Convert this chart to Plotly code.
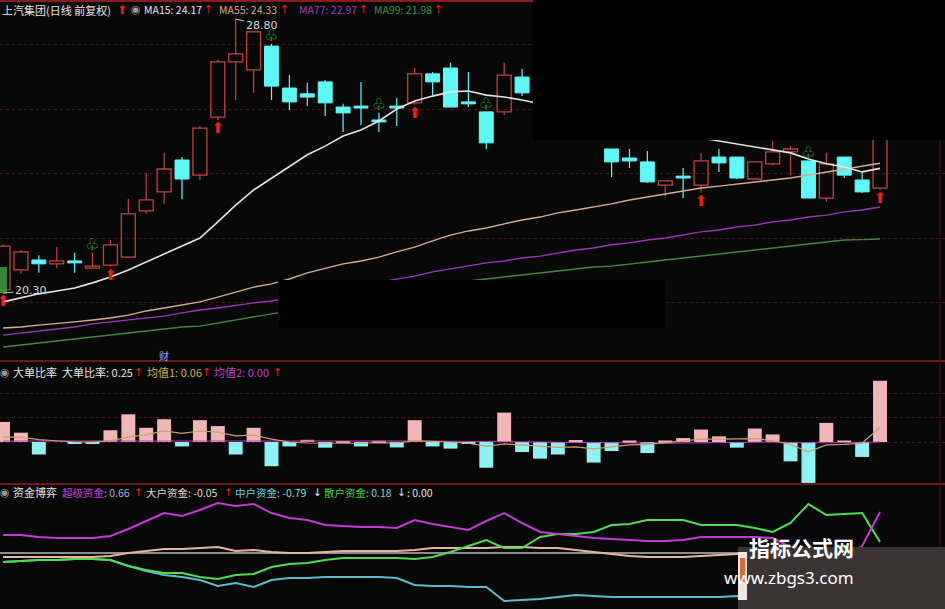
import plotly.graph_objects as go

W, H = 945, 609
def px(x): return x / W
def py(y): return 1 - y / H

# ---------------- data ----------------
open_ = [20.40, 21.02, 21.33, 21.21, 21.30, 21.08, 21.17, 21.42, 22.85, 23.44,
         24.43, 23.96, 25.76, 27.47, 27.22, 27.96, 26.66, 26.48, 26.85, 26.07,
         26.10, 25.67, 26.10, 26.20, 27.10, 27.28, 26.23, 25.92, 25.92, 27.00,
         None, None, None, None, 24.77, 24.49, 24.37, 23.65, 23.93, 23.65,
         24.52, 24.52, 23.84, 24.31, 24.68, 24.40, 23.25, 24.52, 23.81, 23.56]
high = [21.80, 21.64, 21.48, 21.73, 21.55, 21.55, 21.95, 23.22, 24.03, 24.65,
        24.52, 25.48, 27.53, 28.80, 28.40, 28.03, 27.06, 26.82, 26.91, 26.17,
        26.85, 25.89, 26.35, 27.28, 27.16, 27.44, 27.16, 25.92, 27.44, 27.25,
        None, None, None, None, 24.77, 24.77, 24.71, 23.78, 24.18, 24.65,
        24.77, 24.52, 24.37, 25.02, 24.86, 24.40, 24.65, 24.52, 24.06, 25.90]
low = [20.30, 20.90, 20.93, 21.08, 20.93, 21.08, 21.11, 21.39, 22.76, 23.07,
       23.22, 23.81, 25.67, 26.29, 26.51, 26.29, 25.98, 26.10, 25.79, 25.30,
       25.51, 25.30, 25.48, 26.13, 26.44, 26.07, 26.07, 24.77, 25.82, 26.41,
       None, None, None, None, 23.90, 24.18, 23.72, 23.31, 23.25, 23.41,
       24.06, 23.84, 23.84, 24.27, 23.96, 23.25, 23.13, 23.87, 23.41, 23.50]
close = [21.76, 21.58, 21.21, 21.30, 21.24, 21.14, 21.80, 22.76, 23.19, 24.15,
         23.84, 25.42, 27.47, 27.72, 28.40, 26.72, 26.23, 26.38, 26.20, 25.89,
         26.04, 25.61, 26.04, 27.10, 26.85, 26.07, 26.17, 24.96, 27.06, 26.51,
         None, None, None, None, 24.37, 24.40, 23.75, 23.78, 23.87, 24.40,
         24.34, 23.87, 24.37, 24.68, 24.77, 23.25, 24.31, 23.96, 23.44, 25.67]

ma15 = [20.03, 20.15, 20.28, 20.37, 20.46, 20.62, 20.80, 21.02, 21.27, 21.52,
        21.76, 22.01, 22.51, 23.03, 23.50, 23.87, 24.24, 24.59, 24.86, 25.17,
        25.36, 25.64, 26.01, 26.26, 26.41, 26.54, 26.57, 26.44, 26.38, 26.29,
        26.17, 26.07, 25.95, 25.82, 25.70, 25.58, 25.45, 25.33, 25.20, 25.11,
        25.02, 24.93, 24.83, 24.74, 24.65, 24.46, 24.31, 24.21, 24.06, 24.17]
ma55 = [19.22, 19.25, 19.31, 19.35, 19.41, 19.47, 19.53, 19.62, 19.75, 19.84,
        19.93, 20.03, 20.18, 20.34, 20.49, 20.59, 20.74, 20.93, 21.08, 21.21,
        21.30, 21.42, 21.58, 21.73, 21.92, 22.10, 22.23, 22.32, 22.45, 22.57,
        22.66, 22.79, 22.88, 22.97, 23.07, 23.19, 23.28, 23.38, 23.47, 23.56,
        23.62, 23.69, 23.75, 23.81, 23.87, 23.96, 24.06, 24.15, 24.24, 24.33]
ma77 = [19.00, 19.07, 19.13, 19.19, 19.25, 19.35, 19.41, 19.47, 19.53, 19.59,
        19.69, 19.78, 19.84, 19.93, 20.00, 20.06, 20.15, 20.24, 20.34, 20.43,
        20.55, 20.65, 20.74, 20.83, 20.96, 21.05, 21.14, 21.24, 21.30, 21.39,
        21.45, 21.55, 21.64, 21.70, 21.80, 21.86, 21.95, 22.01, 22.10, 22.20,
        22.26, 22.35, 22.41, 22.51, 22.57, 22.66, 22.72, 22.82, 22.88, 22.97]
ma99 = [18.63, 18.70, 18.76, 18.82, 18.88, 18.94, 19.00, 19.07, 19.13, 19.19,
        19.25, 19.28, 19.38, 19.47, 19.56, 19.66, 19.75, 19.87, 19.97, 20.06,
        20.15, 20.24, 20.34, 20.43, 20.52, 20.62, 20.68, 20.74, 20.80, 20.86,
        20.93, 20.99, 21.05, 21.11, 21.14, 21.21, 21.27, 21.33, 21.39, 21.45,
        21.52, 21.58, 21.64, 21.70, 21.76, 21.83, 21.89, 21.95, 21.96, 21.98]

buy_idx = [0, 6, 12, 23, 39, 49]
sell_idx = [5, 15, 21, 27, 45]

ratio = [0.082, 0.038, -0.051, 0.0, -0.008, -0.008, 0.048, 0.113, 0.058, 0.093,
         -0.018, 0.089, 0.065, -0.051, 0.058, -0.099, -0.018, 0.009, -0.023, 0.002,
         -0.018, 0.005, -0.022, 0.089, -0.018, -0.027, -0.005, -0.105, 0.120, -0.041,
         -0.068, -0.051, 0.008, -0.084, -0.037, 0.006, -0.045, 0.006, 0.016, 0.051,
         0.023, -0.023, 0.055, 0.031, -0.079, -0.167, 0.078, 0.006, -0.061, 0.25]
avg1 = [0.02, 0.02, 0.01, 0.005, 0.0, 0.0, 0.005, 0.02, 0.03, 0.045,
        0.035, 0.045, 0.04, 0.025, 0.028, 0.012, 0.0, -0.004, -0.005, -0.004,
        -0.005, -0.003, -0.004, 0.005, 0.004, 0.0, -0.005, -0.018, -0.008, -0.012,
        -0.018, -0.022, -0.02, -0.028, -0.02, -0.012, -0.01, -0.003, 0.005, 0.012,
        0.012, 0.012, 0.014, 0.005, -0.01, -0.04, -0.012, -0.01, -0.005, 0.06]
avg2 = [0.004, 0.004, 0.004, 0.004, 0.004, 0.004, 0.004, 0.005, 0.005, 0.006,
        0.006, 0.007, 0.007, 0.007, 0.007, 0.006, 0.006, 0.005, 0.005, 0.005,
        0.004, 0.004, 0.004, 0.004, 0.004, 0.003, 0.003, 0.002, 0.002, 0.001,
        0.0, -0.001, -0.002, -0.003, -0.004, -0.004, -0.005, -0.005, -0.004, -0.003,
        -0.002, -0.001, 0.0, 0.0, -0.002, -0.004, -0.003, -0.002, -0.002, 0.0]

super_fund = [0.29, 0.29, 0.258, 0.242, 0.242, 0.242, 0.274, 0.387, 0.516, 0.645,
              0.597, 0.694, 0.806, 0.758, 0.79, 0.645, 0.565, 0.532, 0.452, 0.435,
              0.419, 0.419, 0.403, 0.532, 0.468, 0.419, 0.371, 0.516, 0.645, 0.484,
              0.339, 0.306, 0.274, 0.242, 0.226, 0.21, 0.194, 0.194, 0.21, 0.258,
              0.258, 0.258, 0.258, 0.242, 0.097, 0.016, -0.048, -0.048, 0.113, 0.66]
big_fund = [-0.065, -0.065, -0.065, -0.065, -0.065, -0.065, -0.048, 0.0, 0.032, 0.065,
            0.065, 0.081, 0.097, 0.032, 0.048, 0.016, 0.0, 0.0, 0.016, 0.032,
            0.032, 0.032, 0.032, 0.048, 0.081, 0.081, 0.081, 0.081, 0.097, 0.097,
            0.081, 0.081, 0.048, 0.016, -0.016, -0.048, -0.065, -0.065, -0.065, -0.048,
            -0.032, -0.016, -0.016, -0.032, -0.048, -0.048, -0.065, -0.065, -0.05, -0.05]
mid_fund = [-0.145, -0.129, -0.113, -0.113, -0.097, -0.097, -0.113, -0.21, -0.29, -0.355,
            -0.387, -0.435, -0.532, -0.484, -0.548, -0.435, -0.403, -0.403, -0.387, -0.387,
            -0.387, -0.387, -0.403, -0.516, -0.532, -0.532, -0.548, -0.548, -0.774, -0.758,
            -0.742, -0.71, -0.677, -0.694, -0.71, -0.71, -0.71, -0.71, -0.71, -0.71,
            -0.71, -0.694, -0.71, -0.726, -0.742, -0.758, -0.774, -0.774, -0.79, -0.79]
retail_fund = [-0.145, -0.129, -0.113, -0.113, -0.097, -0.097, -0.113, -0.21, -0.274, -0.323,
               -0.323, -0.387, -0.419, -0.355, -0.339, -0.226, -0.177, -0.161, -0.113, -0.081,
               -0.081, -0.081, -0.081, -0.097, -0.065, 0.016, 0.113, 0.21, 0.081, 0.081,
               0.258, 0.306, 0.306, 0.339, 0.452, 0.468, 0.532, 0.532, 0.532, 0.452,
               0.452, 0.452, 0.403, 0.339, 0.484, 0.79, 0.613, 0.629, 0.645, 0.18]

# ---------------- styles ----------------
BG = "#090808"
RED = "#c0443a"
CYAN = "#5ff8f8"
ARROW_RED = "#e8201c"
CJK = "Noto Sans CJK SC"

fig = go.Figure()

# candles
up = dict(x=[], base=[], h=[], wx=[], wy=[])
dn = dict(x=[], base=[], h=[], wx=[], wy=[])
for i, (o, hi, lo, c) in enumerate(zip(open_, high, low, close)):
    if o is None:
        continue
    top, bot = max(o, c), min(o, c)
    d = up if c >= o else dn
    d["x"].append(i)
    d["base"].append(bot)
    d["h"].append(max(top - bot, 0.03))
    d["wx"] += [i, i, None, i, i, None]
    d["wy"] += [hi, top, None, bot, lo, None]

fig.add_trace(go.Scatter(x=up["wx"], y=up["wy"], mode="lines",
                         line=dict(color=RED, width=1.2), xaxis="x", yaxis="y"))
fig.add_trace(go.Scatter(x=dn["wx"], y=dn["wy"], mode="lines",
                         line=dict(color=CYAN, width=1.2), xaxis="x", yaxis="y"))
fig.add_trace(go.Bar(x=up["x"], y=up["h"], base=up["base"], width=0.78,
                     marker=dict(color="rgba(0,0,0,0)", line=dict(color=RED, width=1.3)),
                     xaxis="x", yaxis="y"))
fig.add_trace(go.Bar(x=dn["x"], y=dn["h"], base=dn["base"], width=0.78,
                     marker=dict(color=CYAN, line=dict(color=CYAN, width=1)),
                     xaxis="x", yaxis="y"))

idx = list(range(len(ma15)))
for vals, col, w in [(ma99, "#3f8a3c", 1.4), (ma77, "#9a36b4", 1.4),
                     (ma55, "#d6b08a", 1.4), (ma15, "#e4e4e4", 1.6)]:
    fig.add_trace(go.Scatter(x=idx, y=vals, mode="lines", line=dict(color=col, width=w),
                             xaxis="x", yaxis="y"))

# signals
fig.add_trace(go.Scatter(x=buy_idx, y=[low[i] - 0.28 for i in buy_idx], mode="text",
                         text=["⬆"] * len(buy_idx),
                         textfont=dict(color=ARROW_RED, size=15, family="DejaVu Sans"),
                         xaxis="x", yaxis="y"))
fig.add_trace(go.Scatter(x=sell_idx, y=[high[i] + 0.22 for i in sell_idx], mode="text",
                         text=["♧"] * len(sell_idx),
                         textfont=dict(color="#3dbb3d", size=16, family="DejaVu Sans"),
                         xaxis="x", yaxis="y"))

# panel 2: big order ratio
fig.add_trace(go.Bar(x=idx, y=ratio, width=0.78,
                     marker=dict(color=["#f3b6b6" if v >= 0 else "#8ef2f2" for v in ratio],
                                 line=dict(width=0)),
                     xaxis="x2", yaxis="y2"))
fig.add_trace(go.Scatter(x=idx, y=avg2, mode="lines", line=dict(color="#c03cc0", width=1),
                         xaxis="x2", yaxis="y2"))
fig.add_trace(go.Scatter(x=idx, y=avg1, mode="lines", line=dict(color="#c8a070", width=1.2),
                         xaxis="x2", yaxis="y2"))

# panel 3: fund game
for vals, col in [(mid_fund, "#5cbccc"), (big_fund, "#e6b898"),
                  (retail_fund, "#4fdc4f"), (super_fund, "#c03cd4")]:
    fig.add_trace(go.Scatter(x=idx, y=vals, mode="lines", line=dict(color=col, width=2),
                             xaxis="x3", yaxis="y3"))

XR = [-0.17, 52.63]
axis_common = dict(range=XR, visible=False, fixedrange=True)
GRID = "#4c1616"

shapes = [
    dict(type="line", xref="x3", yref="y3", x0=-0.17, x1=49, y0=0, y1=0,
         line=dict(color="#8c8c8c", width=2), layer="below"),
    dict(type="line", xref="paper", yref="paper", x0=0, x1=px(533), y0=py(1), y1=py(1),
         line=dict(color="#8a1c1c", width=2)),
    dict(type="line", xref="paper", yref="paper", x0=0, x1=1, y0=py(361), y1=py(361),
         line=dict(color="#6a1818", width=2)),
    dict(type="line", xref="paper", yref="paper", x0=0, x1=1, y0=py(484), y1=py(484),
         line=dict(color="#6a1818", width=2)),
    dict(type="line", xref="paper", yref="paper", x0=px(940), x1=px(940), y0=py(140), y1=0,
         line=dict(color="#4a1212", width=1)),
    # green marker block at the left edge
    dict(type="rect", xref="paper", yref="paper", x0=0, x1=px(7), y0=py(293), y1=py(267),
         fillcolor="#3f9c3f", line=dict(width=0), layer="above", opacity=0.85),
    dict(type="rect", xref="paper", yref="paper", x0=px(533), x1=1, y0=py(140), y1=1,
         fillcolor="#000000", line=dict(width=0), layer="above"),
    dict(type="rect", xref="paper", yref="paper", x0=px(278), x1=px(665), y0=py(328), y1=py(280),
         fillcolor="#000000", line=dict(width=0), layer="above"),
    dict(type="rect", xref="paper", yref="paper", x0=px(738), x1=1, y0=0, y1=py(547),
         fillcolor="#3a3434", line=dict(width=0), layer="above"),
    dict(type="rect", xref="paper", yref="paper", x0=px(738), x1=px(747), y0=py(600), y1=py(552),
         fillcolor="#efe6dc", line=dict(width=0), layer="above"),
    dict(type="rect", xref="paper", yref="paper", x0=px(740), x1=px(745), y0=py(582), y1=py(558),
         fillcolor="#d86a3a", line=dict(width=0), layer="above"),
]

ann = []
def label(text, x, y, color, size=11, family=CJK):
    ann.append(dict(text=text, x=px(x), y=py(y), xref="paper", yref="paper",
                    xanchor="left", yanchor="middle", showarrow=False,
                    font=dict(color=color, size=size, family=family)))

# main header
label("上汽集团(日线 前复权)", 0, 10, "#e6e6e6")
label("⬆", 115, 10, ARROW_RED, 12, "DejaVu Sans")
label("◉", 129, 10, "#9a9a9a", 11, "DejaVu Sans")
label("MA15: 24.17", 142, 10, "#e6e6e6", 10.5)
label("↑", 202, 10, ARROW_RED, 11, "DejaVu Sans")
label("MA55: 24.33", 217, 10, "#d2b088", 10.5)
label("↑", 278, 10, ARROW_RED, 11, "DejaVu Sans")
label("MA77: 22.97", 297, 10, "#a23cc8", 10.5)
label("↑", 357, 10, ARROW_RED, 11, "DejaVu Sans")
label("MA99: 21.98", 372, 10, "#3c9c3c", 10.5)
label("↑", 432, 10, ARROW_RED, 11, "DejaVu Sans")

# panel 2 header
label("◉", -2, 372, "#9a9a9a", 11, "DejaVu Sans")
label("大单比率", 11, 372, "#e6e6e6")
label("大单比率: 0.25", 60, 372, "#e6e6e6")
label("↑", 132, 372, ARROW_RED, 11, "DejaVu Sans")
label("均值1: 0.06", 145, 372, "#d4ae58")
label("↑", 200, 372, ARROW_RED, 11, "DejaVu Sans")
label("均值2: 0.00", 212, 372, "#c040c8")
label("↑", 271, 372, ARROW_RED, 11, "DejaVu Sans")

# panel 3 header
label("◉", -2, 492, "#9a9a9a", 11, "DejaVu Sans")
label("资金博弈", 11, 492, "#e6e6e6")
label("<span style='color:#c840d8'>超级资金</span>: 0.66", 60, 492, "#b4a8d8", 10.5)
label("↑", 132, 492, ARROW_RED, 10.5, "DejaVu Sans")
label("大户资金: -0.05", 144, 492, "#e6d8c8", 10.5)
label("↑", 222, 492, ARROW_RED, 10.5, "DejaVu Sans")
label("<span style='color:#5cd0e0'>中户资金</span>: -0.79", 233, 492, "#8cd8e0", 10.5)
label("↓", 311, 492, "#e6e6e6", 10.5, "DejaVu Sans")
label("<span style='color:#3cd03c'>散户资金</span>: 0.18", 322, 492, "#80d0d0", 10.5)
label("↓", 395, 492, "#e6e6e6", 10.5, "DejaVu Sans")
label(": 0.00", 405, 492, "#e6e6e6", 10.5)

# price marks
ann.append(dict(text="28.80", x=13, y=28.80, xref="x", yref="y", ax=26, ay=6,
                showarrow=True, arrowhead=0, arrowwidth=1, arrowcolor="#d0d0d0",
                font=dict(color="#d8d8d8", size=11, family="DejaVu Sans")))
ann.append(dict(text="20.30", x=0, y=20.30, xref="x", yref="y", ax=28, ay=-3,
                showarrow=True, arrowhead=0, arrowwidth=1, arrowcolor="#d0d0d0",
                font=dict(color="#d8d8d8", size=11, family="DejaVu Sans")))
ann.append(dict(text="财", x=9, y=py(355), xref="x", yref="paper", showarrow=False,
                font=dict(color="#9aa2ff", size=10, family=CJK)))

# watermark text
ann.append(dict(text="<b>指标公式网</b>", x=px(856), y=py(564), xref="paper", yref="paper",
                showarrow=False, font=dict(color="#ffffff", size=21, family=CJK)))
ann.append(dict(text="www.zbgs3.com", x=px(856), y=py(591), xref="paper", yref="paper",
                showarrow=False, font=dict(color="#ffffff", size=17, family="Noto Sans")))

fig.update_layout(
    width=W, height=H, margin=dict(l=0, r=0, t=0, b=0),
    paper_bgcolor=BG, plot_bgcolor=BG, showlegend=False, barmode="overlay",
    hovermode=False,
    xaxis=dict(domain=[0, 1], anchor="y", **axis_common),
    xaxis2=dict(domain=[0, 1], anchor="y2", **axis_common),
    xaxis3=dict(domain=[0, 1], anchor="y3", **axis_common),
    yaxis=dict(domain=[py(360), 1], range=[18.229, 29.389], showticklabels=False,
               ticks="", tickvals=[20, 22, 24, 26, 28], showgrid=True, gridcolor=GRID,
               griddash="dot", gridwidth=1, zeroline=False, showline=False, fixedrange=True),
    yaxis2=dict(domain=[py(483), py(362)], range=[-0.1673, 0.3265], showticklabels=False,
                ticks="", tickvals=[0, 0.1, 0.2], showgrid=True, gridcolor=GRID,
                griddash="dot", gridwidth=1, zeroline=False, showline=False, fixedrange=True),
    yaxis3=dict(domain=[0, py(485)], range=[-0.903, 1.097], showticklabels=False,
                ticks="", showgrid=False, zeroline=False, showline=False, fixedrange=True),
    shapes=shapes, annotations=ann,
)

fig.write_html("out.html", config={"displayModeBar": False},
               post_script="document.body.style.margin='0';document.body.style.overflow='hidden';")
